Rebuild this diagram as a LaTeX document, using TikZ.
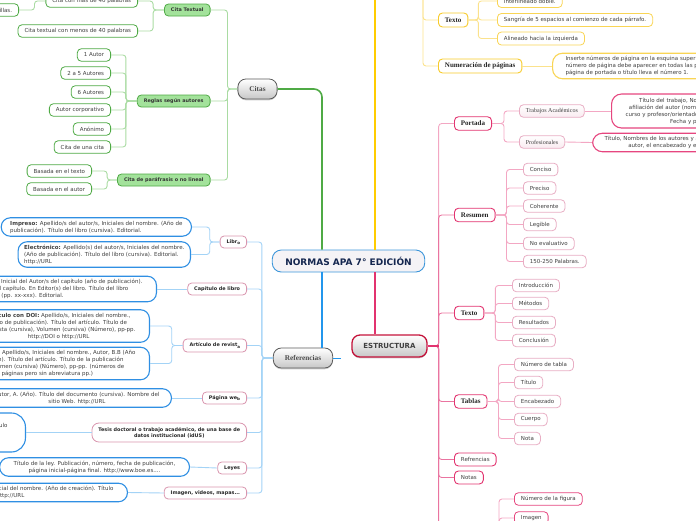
\documentclass[tikz,border=0pt]{standalone}
\usepackage{fontspec}
\setmainfont{DejaVu Sans}
\newfontfamily\serifb{Liberation Serif}
\usetikzlibrary{shadows}
\definecolor{apablue}{HTML}{3D96DA}
\definecolor{apafill}{HTML}{F5F3F6}
\definecolor{apanavy}{HTML}{14264F}
\definecolor{citgreen}{HTML}{4FAA45}
\definecolor{citgreenl}{HTML}{A9DBA2}
\definecolor{citfill}{HTML}{A3E29B}
\definecolor{refblue}{HTML}{2396EC}
\definecolor{refbluel}{HTML}{A3D3F6}
\definecolor{leafblue}{HTML}{2F8FE3}
\definecolor{refpink}{HTML}{D995AE}
\definecolor{estred}{HTML}{C4123A}
\definecolor{estpink}{HTML}{E2336F}
\definecolor{estpinkm}{HTML}{EA74A0}
\definecolor{estpinkl}{HTML}{F3A7C3}
\definecolor{leafpink}{HTML}{E8AEC4}
\definecolor{hotpink}{HTML}{E6467F}
\definecolor{apayellow}{HTML}{FFCC00}
\definecolor{yellowl}{HTML}{FBE28C}
\definecolor{yellowb}{HTML}{F7CB2A}
\definecolor{textgray}{HTML}{3F3F3F}
\tikzset{
  mapnode/.style = {rounded corners=4pt, inner xsep=6.5pt, inner ysep=0pt,
    minimum height=12.5pt, fill=white, text=textgray, align=center,
    font=\fontsize{5.5}{7}\selectfont},
  main_n/.style = {mapnode, draw=apablue, line width=0.9pt, rounded corners=9pt,
    fill=apafill, text=apanavy, inner xsep=13pt, minimum height=22pt,
    font=\bfseries\fontsize{9}{10}\selectfont},% nodo central
  top_n/.style = {mapnode, draw=black!65, line width=0.8pt, rounded corners=8pt,
    top color=white, bottom color=black!22, text=black!70, inner xsep=11.5pt,
    minimum height=20pt, font=\serifb\bfseries\fontsize{7.3}{8}\selectfont,
    drop shadow={shadow xshift=0pt, shadow yshift=-1.3pt, fill=black!40}},
  est_n/.style = {top_n, draw=estred, line width=1.3pt, minimum height=22pt,
    text=black!75, font=\bfseries\fontsize{7}{8}\selectfont},
  cit_n/.style = {mapnode, draw=citgreen, line width=0.8pt, fill=citfill,
    text=black!80, font=\bfseries\fontsize{4.9}{6}\selectfont, minimum height=12pt},
  cit_l/.style = {mapnode, draw=citgreen, line width=0.8pt},
  ref_n/.style = {mapnode, draw=refpink, line width=0.8pt, text=black!85,
    font=\bfseries\fontsize{4.9}{6}\selectfont, minimum height=12pt},
  ref_l/.style = {mapnode, draw=leafblue, line width=1.1pt, rounded corners=9pt,
    inner ysep=3pt, inner xsep=9pt},
  est_p/.style = {mapnode, draw=estpink, line width=0.9pt, text=black!85,
    font=\serifb\bfseries\fontsize{7}{8}\selectfont, minimum height=13.5pt},
  est_s/.style = {mapnode, draw=estpink, line width=0.9pt, minimum height=13pt},
  est_m/.style = {mapnode, draw=leafpink, line width=0.8pt, top color=white,
    bottom color=leafpink!25, font=\serifb\fontsize{6}{7}\selectfont},
  est_l/.style = {mapnode, draw=leafpink, line width=0.8pt},
  est_t/.style = {mapnode, draw=hotpink, line width=1.1pt, rounded corners=10pt,
    inner ysep=3pt, inner xsep=14pt},
  yel_p/.style = {mapnode, draw=yellowb, line width=0.9pt, text=black!85,
    font=\serifb\bfseries\fontsize{7}{8}\selectfont, minimum height=14pt},
  yel_l/.style = {mapnode, draw=yellowb!80, line width=0.8pt, minimum height=13pt},
  yel_t/.style = {yel_l, line width=1.1pt, rounded corners=10pt, inner ysep=3pt,
    inner xsep=13pt, align=left},
  link/.style = {line width=0.9pt, rounded corners=3pt},
  trunk/.style = {line width=1.9pt, rounded corners=8pt},
}
\newcommand{\lowch}[1]{\raisebox{-1.2pt}{\fontsize{4}{5}\selectfont #1}}

\begin{document}
\begin{tikzpicture}[x=1pt,y=-1pt]
  \useasboundingbox (0,0) rectangle (696,520);
  \clip (0,0) rectangle (696,520);

  \node[main_n] (apa) at (348.5,261) {NORMAS APA 7° EDICIÓN};
  \node[top_n] (citas) at (257.5,89) {Citas};
  \node[top_n] (refs) at (303,358) {Referencias};
  \node[est_n] (estr) at (389.5,346) {ESTRUCTURA};
  \coordinate (formato) at (375,-8);

  % formato
  \coordinate (ybr) at (423,-8);
  \node[yel_p, anchor=west] (ytexto) at (438,20) {Texto};
  \node[yel_p, anchor=west] (ynum) at (438,66) {Numeración de páginas};
  \node[yel_l, anchor=west] (y1) at (497,1) {Interlineado doble.};
  \node[yel_l, anchor=west, minimum width=155pt] (y2) at (497,20) {Sangría de 5 espacios al comienzo de cada párrafo.};
  \node[yel_l, anchor=west] (y3) at (497,38.5) {Alineado hacia la izquierda};
  \node[yel_t, anchor=west] (ynumtxt) at (552,66) {Inserte números de página en la esquina superior derecha. El\\número de página debe aparecer en todas las páginas. La\\página de portada o título lleva el número 1.};

  % Citas
  \node[cit_n, anchor=east] (ctext) at (210.5,10) {Cita Textual};
  \node[cit_n, anchor=east] (creglas) at (210.5,101) {Reglas según autores};
  \node[cit_n, anchor=east] (cpara) at (210.5,180) {Cita de paráfrasis o no lineal};
  \node[cit_l, anchor=east] (cmas) at (138,1) {Cita con más de 40 palabras};
  \node[cit_l, anchor=east] (cmenos) at (138,31) {Cita textual con menos de 40 palabras};
  \node[cit_l, anchor=east] (csin) at (19,10) {Sin comillas.};
  \node[cit_l, anchor=east] (r1) at (111,55) {1 Autor};
  \node[cit_l, anchor=east] (r2) at (111,73) {2 a 5 Autores};
  \node[cit_l, anchor=east] (r3) at (111,92) {6 Autores};
  \node[cit_l, anchor=east] (r4) at (111,110) {Autor corporativo};
  \node[cit_l, anchor=east] (r5) at (111,129) {Anónimo};
  \node[cit_l, anchor=east] (r6) at (111,147) {Cita de una cita};
  \node[cit_l, anchor=east] (p1) at (92,171) {Basada en el texto};
  \node[cit_l, anchor=east] (p2) at (92,189) {Basada en el autor};

  % Referencias
  \node[ref_n, anchor=east] (libro) at (247,242) {Libr\lowch{o}};
  \node[ref_n, anchor=east] (capitulo) at (247,289) {Capítulo de libro};
  \node[ref_n, anchor=east, minimum height=13pt] (articulo) at (247,345.5) {Artículo de revist\lowch{a}};
  \node[ref_n, anchor=east] (web) at (247,398) {Página we\lowch{b}};
  \node[ref_n, anchor=east, minimum height=19pt, rounded corners=7pt] (tesis) at (247,432.5) {Tesis doctoral o trabajo académico, de una base de\\datos institucional (idUS)};
  \node[ref_n, anchor=east] (leyes) at (247,468) {Leyes};
  \node[ref_n, anchor=east] (imagen) at (247,493) {Imagen, videos, mapas...};
  \node[ref_l, anchor=east, align=left] (impreso) at (192,227) {\textbf{Impreso:} Apellido/s del autor/s, Iniciales del nombre. (Año de\\publicación). Título del libro (cursiva). Editorial.};
  \node[ref_l, anchor=east, align=left, inner xsep=6pt] (electr) at (191,254.5) {\textbf{Electrónico:} Apellido(s) del autor/s, Iniciales del nombre.\\(Año de publicación). Título del libro (cursiva). Editorial.\\http://URL};
  \node[ref_l, anchor=east, align=left, inner xsep=14pt] (capleaf) at (157,289) {Apellido, Inicial del Autor/s del capítulo (año de publicación).\\Título del capítulo. En Editor(s) del libro. Título del libro\\(cursiva) (pp. xx-xxx). Editorial.};
  \node[ref_l, anchor=east, inner xsep=14pt] (arta) at (150,326) {\textbf{Artículo con DOI:}  Apellido/s, Iniciales del nombre.,\\(Año de publicación). Título del artículo. Título de\\la revista (cursiva), Volumen (cursiva) (Número), pp-pp.\\http://DOI o http://URL};
  \node[ref_l, anchor=east, inner xsep=14pt] (artb) at (150,363.5) {\textbf{Artículo sin DOI:} Apellido/s, Iniciales del nombre., Autor, B.B  (Año\\de publicación). Título del artículo. Título de la publicación\\(cursiva), Volumen (cursiva) (Número), pp-pp. (números de\\las páginas pero sin abreviatura pp.)};
  \node[ref_l, anchor=east, inner xsep=12pt] (webleaf) at (172,398) {Autor, A. (Año). Título del documento (cursiva). Nombre del\\sitio Web. http://URL};
  \node[ref_l, anchor=east, minimum height=39pt, rounded corners=14pt, inner xsep=18pt] (tesleaf) at (26,432.5) {Autor, A. (Año). Título\\(Tesis doctoral).\\Base de datos.};
  \node[ref_l, anchor=east, inner xsep=14pt] (leyleaf) at (190,467) {Título de la ley. Publicación, número, fecha de publicación,\\página inicial-página final. http://www.boe.es....};
  \node[ref_l, anchor=east, align=left, inner xsep=14pt] (imgleaf) at (128,492.5) {Apellido, Inicial del nombre. (Año de creación). Título\\(formato). http://URL};
  \coordinate (rstub) at (341,358);

  % Estructura
  \node[est_p, anchor=west] (portada) at (454,123.5) {Portada};
  \node[est_p, anchor=west] (resumen) at (454,215) {Resumen};
  \node[est_p, anchor=west] (etexto) at (454,313) {Texto};
  \node[est_p, anchor=west] (tablas) at (454,401.5) {Tablas};
  \node[est_s, anchor=west] (erefs) at (454,459.5) {Refrencias};
  \node[est_s, anchor=west] (enotas) at (454,477.5) {Notas};
  \coordinate (efig) at (454,560);
  \node[est_m, anchor=west] (trab) at (519,111) {Trabajos Académicos};
  \node[est_m, anchor=west] (prof) at (519,142) {Profesionales};
  \node[est_t, anchor=west, minimum height=34pt] (trabtxt) at (611,111) {Título del trabajo, Nombre y apellidos,\\afiliación del autor (nombre de la institución),\\curso y profesor/orientador (nombre y apellido),\\Fecha y página.};
  \node[est_t, anchor=west, inner xsep=12pt] (proftxt) at (592,142.5) {Título, Nombres de los autores y afiliación, nota del\\autor, el encabezado y el número.};
  \node[est_l, anchor=west] (s1) at (523,169.5) {Conciso};
  \node[est_l, anchor=west] (s2) at (523,188) {Preciso};
  \node[est_l, anchor=west] (s3) at (523,206) {Coherente};
  \node[est_l, anchor=west] (s4) at (523,224.5) {Legible};
  \node[est_l, anchor=west] (s5) at (523,243.5) {No evaluativo};
  \node[est_l, anchor=west] (s6) at (523,261.5) {150-250 Palabras.};
  \node[est_l, anchor=west] (t1) at (512,285.5) {Introducción};
  \node[est_l, anchor=west] (t2) at (512,303.5) {Métodos};
  \node[est_l, anchor=west] (t3) at (512,322.5) {Resultados};
  \node[est_l, anchor=west] (t4) at (512,340.5) {Conclusión};
  \node[est_l, anchor=west] (b1) at (514,364.5) {Número de tabla};
  \node[est_l, anchor=west] (b2) at (514,382.5) {Título};
  \node[est_l, anchor=west] (b3) at (514,401.5) {Encabezado};
  \node[est_l, anchor=west] (b4) at (514,419.5) {Cuerpo};
  \node[est_l, anchor=west] (b5) at (514,438.5) {Nota};
  \coordinate (fbr) at (499,560);
  \node[est_l, anchor=west, draw=hotpink] (f1) at (514,499) {Número de la figura};
  \node[est_l, anchor=west, draw=hotpink] (f2) at (514,518) {Imagen};

  % ramas principales
  \coordinate (gbot) at ([xshift=-26.5pt]apa.north);
  \coordinate (ytop) at ([xshift=26.5pt]apa.north);
  \coordinate (btop) at ([xshift=-26.5pt]apa.south);
  \coordinate (rtop) at ([xshift=26.5pt]apa.south);
  \draw[trunk, citgreen, line width=1.6pt] (citas.east) -| (gbot);
  \draw[trunk, apayellow, line width=2.2pt] (ytop) -- (ytop |- formato);
  \draw[trunk, refblue, line width=1.6pt] (btop) -- (btop |- refs.north);
  \draw[trunk, estpink, line width=1.6pt] (rtop) -- (rtop |- estr.north);

  % formato
  \foreach \c in {ytexto,ynum}
    \draw[link, yellowl] (ybr) |- (\c.west);
  \foreach \c in {y1,y2,y3}
    \draw[link, yellowl] (ytexto.east) -- ++(10,0) |- (\c.west);
  \draw[link, yellowl] (ynum.east) -- (ynumtxt.west);

  % Citas
  \foreach \c in {ctext,creglas,cpara}
    \draw[link, citgreenl] (citas.west) -- ++(-10,0) |- (\c.east);
  \foreach \c in {cmas,cmenos}
    \draw[link, citgreenl] (ctext.west) -- ++(-11,0) |- (\c.east);
  \draw[link, citgreenl] (cmas.west) -- ++(-11,0) |- (csin.east);
  \foreach \c in {r1,r2,r3,r4,r5,r6}
    \draw[link, citgreenl] (creglas.west) -- ++(-11,0) |- (\c.east);
  \foreach \c in {p1,p2}
    \draw[link, citgreenl] (cpara.west) -- ++(-10,0) |- (\c.east);

  % Referencias
  \draw[link, refblue] (refs.east) -- (rstub);
  \foreach \c in {libro,capitulo,articulo,web,tesis,leyes,imagen}
    \draw[link, refbluel] (refs.west) -- ++(-11,0) |- (\c.east);
  \foreach \c in {impreso,electr}
    \draw[link, refbluel] (libro.west) -- ++(-10,0) |- (\c.east);
  \foreach \c in {arta,artb}
    \draw[link, refbluel] (articulo.west) -- ++(-11,0) |- (\c.east);
  \draw[link, refbluel] (capitulo.west) -- (capleaf.east);
  \draw[link, refbluel] (web.west) -- (webleaf.east);
  \draw[link, refbluel] (tesis.west) -- (tesleaf.east);
  \draw[link, refbluel] (leyes.west) -- (leyleaf.east);
  \draw[link, refbluel] (imagen.west) -- (imgleaf.east);

  % Estructura
  \draw[link, estpinkl] (estr.east) -- ++(11,0) |- (portada.west);
  \foreach \c in {resumen,etexto,tablas,erefs,enotas}
    \draw[link, estpinkm] (estr.east) -- ++(11,0) |- (\c.west);
  \draw[link, estpinkm] (estr.east) -- ++(11,0) |- (efig);
  \draw[link, estpink, line width=1.2pt] (estr.east) -- ++(11,0);
  \foreach \c in {trab,prof}
    \draw[link, estpinkl] (portada.east) -- ++(12,0) |- (\c.west);
  \draw[link, estpinkl] (trab.east) -- (trabtxt.west);
  \draw[link, estpinkl] (prof.east) -- (proftxt.west);
  \foreach \c in {s1,s2,s3,s4,s5,s6}
    \draw[link, estpinkl] (resumen.east) -- ++(11,0) |- (\c.west);
  \foreach \c in {t1,t2,t3,t4}
    \draw[link, estpinkl] (etexto.east) -- ++(11,0) |- (\c.west);
  \foreach \c in {b1,b2,b3,b4,b5}
    \draw[link, estpinkl] (tablas.east) -- ++(11,0) |- (\c.west);
  \foreach \c in {f1,f2}
    \draw[link, estpinkl] (fbr) |- (\c.west);
\end{tikzpicture}
\end{document}
